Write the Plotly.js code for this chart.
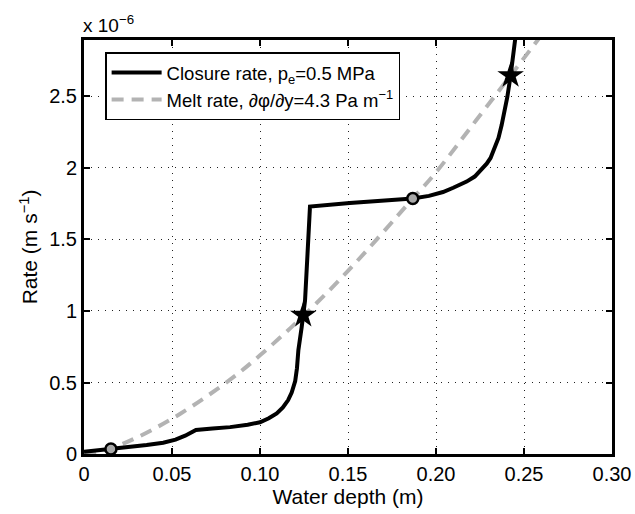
<!DOCTYPE html>
<html>
<head>
<meta charset="utf-8">
<script src="https://cdn.plot.ly/plotly-3.0.1.min.js"></script>
<style>html,body{margin:0;padding:0;background:#fff;}#chart{width:635px;height:514px;}</style>
</head>
<body>
<div id="chart"></div>
<script>
// Values (rate in units of 1e-6 m s^-1)
const closureX = [0, 0.0153, 0.0356, 0.045, 0.052, 0.0575, 0.0636, 0.073, 0.083, 0.093, 0.1, 0.105, 0.1095, 0.113, 0.116, 0.118, 0.12, 0.121, 0.1218, 0.1237, 0.1246, 0.1256, 0.127, 0.1284, 0.151, 0.172, 0.1868, 0.196, 0.204, 0.2098, 0.2174, 0.222, 0.226, 0.2288, 0.231, 0.2326, 0.2355, 0.2373, 0.239, 0.2405, 0.2424, 0.2439, 0.2455];
const closureY = [0.016, 0.035, 0.063, 0.079, 0.1, 0.128, 0.168, 0.178, 0.188, 0.205, 0.222, 0.25, 0.284, 0.325, 0.377, 0.43, 0.51, 0.6, 0.726, 0.889, 0.971, 1.075, 1.4, 1.73, 1.755, 1.774, 1.786, 1.805, 1.832, 1.862, 1.905, 1.94, 1.99, 2.03, 2.07, 2.115, 2.21, 2.3, 2.4, 2.495, 2.647, 2.798, 2.95];
const meltX = [0, 0.015, 0.03, 0.0545, 0.083, 0.1, 0.125, 0.15, 0.1868, 0.2, 0.2226, 0.2424, 0.26];
const meltY = [0, 0.04, 0.115, 0.28, 0.52, 0.69, 0.97, 1.28, 1.786, 1.97, 2.33, 2.647, 2.93];
const circleX = [0.0153, 0.1868];
const circleY = [0.035, 1.786];
const starX = [0.1246, 0.2424];
const starY = [0.971, 2.647];
const xTicks = [0, 0.05, 0.10, 0.15, 0.20, 0.25, 0.30];
const xTickText = ['0', '0.05', '0.10', '0.15', '0.20', '0.25', '0.30'];
const yTicks = [0, 0.5, 1, 1.5, 2, 2.5];
const yTickText = ['0', '0.5', '1', '1.5', '2', '2.5'];

const FONT = '"Liberation Sans", Arial, Helvetica, sans-serif';

const traces = [
  {x: meltX, y: meltY, type: 'scatter', mode: 'lines', line: {shape: 'spline', color: '#b3b3b3', width: 4, dash: '12px,8px'},
   name: 'Melt rate, ∂φ/∂y=4.3 Pa m<sup>−1</sup>'},
  {x: closureX, y: closureY, type: 'scatter', mode: 'lines', line: {shape: 'linear', color: '#000', width: 4},
   name: 'Closure rate, p<sub>e</sub>=0.5 MPa'},
  {x: circleX, y: circleY, type: 'scatter', mode: 'markers', showlegend: false,
   marker: {symbol: 'circle', size: 11, color: '#a9a9a9', line: {color: '#000', width: 2.5}}},
  {x: starX, y: starY, type: 'scatter', mode: 'markers', showlegend: false,
   marker: {symbol: 'star', size: 20, color: '#000', line: {color: '#000', width: 0}}}
];

const axisCommon = {
  showline: true, mirror: 'ticks', linecolor: '#000', linewidth: 3,
  ticks: 'inside', ticklen: 6, tickwidth: 2, tickcolor: '#000',
  showgrid: true, gridcolor: '#222', gridwidth: 1, griddash: '1px,6px',
  zeroline: false, tickfont: {family: FONT, size: 20, color: '#000'}
};

const layout = {
  width: 635, height: 514,
  margin: {l: 84, r: 23, t: 40, b: 60},
  paper_bgcolor: '#fff', plot_bgcolor: '#fff',
  showlegend: true,
  legend: {
    x: 0.04, y: 0.97, xanchor: 'left', yanchor: 'top',
    bgcolor: '#fff', bordercolor: '#000', borderwidth: 1.5,
    font: {family: FONT, size: 18.5, color: '#000'},
    traceorder: 'reversed', itemwidth: 50, tracegroupgap: 0
  },
  xaxis: Object.assign({}, axisCommon, {
    range: [0, 0.30], tickmode: 'array', tickvals: xTicks, ticktext: xTickText,
    title: {text: 'Water depth (m)', font: {family: FONT, size: 21, color: '#000'}, standoff: 2}
  }),
  yaxis: Object.assign({}, axisCommon, {
    range: [0, 2.895], tickmode: 'array', tickvals: yTicks, ticktext: yTickText,
    title: {text: 'Rate (m s<sup>−1</sup>)', font: {family: FONT, size: 21, color: '#000'}, standoff: 6}
  }),
  annotations: [{
    text: 'x 10<sup>−6</sup>', xref: 'paper', yref: 'paper', x: 0, y: 1,
    xanchor: 'left', yanchor: 'bottom', showarrow: false, yshift: 2, xshift: -3,
    font: {family: FONT, size: 19, color: '#000'}
  }]
};

Plotly.newPlot('chart', traces, layout, {displayModeBar: false, staticPlot: true});
</script>
</body>
</html>
